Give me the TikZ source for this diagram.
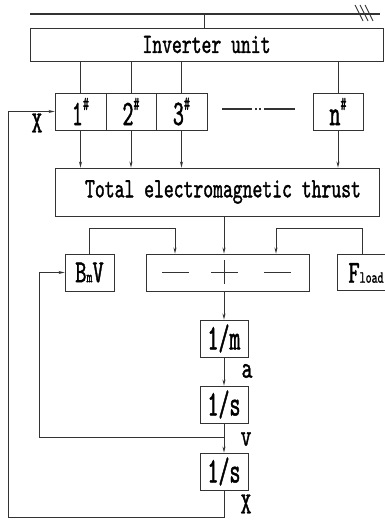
\documentclass[tikz,border=0pt]{standalone}
\usepackage{fontspec}
\newfontfamily\cad[FakeStretch=0.67,FakeBold=1.2]{lmmono10-regular.otf}
\newfontfamily\cadN[FakeStretch=0.58,FakeBold=1.2]{lmmono10-regular.otf}
\usetikzlibrary{arrows.meta}
\tikzset{
  box/.style={draw=black!80, line width=0.9pt, rectangle, inner sep=0pt, font=\cad\fontsize{28}{28}\selectfont, text=black},
  big/.style={font=\cadN\fontsize{36}{36}\selectfont},
  mid/.style={font=\cad\fontsize{32}{32}\selectfont},
  conn/.style={draw=black!80, line width=0.9pt},
  arr/.style={conn, -{Stealth[length=6pt,width=3pt]}},
  lbl/.style={font=\cad\fontsize{31}{31}\selectfont, text=black, inner sep=0pt}
}
\newcommand{\hsh}{\raisebox{0.42em}{\fontsize{20}{20}\selectfont\#}}
\begin{document}
\begin{tikzpicture}[x=1pt,y=-1pt]
\useasboundingbox (0,0) rectangle (385,522);
% bus line
\coordinate (busL) at (30,14);
\coordinate (busR) at (380,14);
\coordinate (busT) at (204,14);
\draw[conn, line width=1.4pt] (busL) -- (busR);
\foreach \dx in {0,5,10} \draw[conn] (355+\dx,5) -- (363+\dx,21);
% boxes
\node[box, minimum width=353, minimum height=33] (inv) at (206.5,44.5) {Inverter unit\hspace{22pt}};
\node[box, big, minimum width=51, minimum height=37] (b1) at (80.5,111.5) {1\hsh};
\node[box, big, minimum width=50, minimum height=37] (b2) at (131,111.5) {2\hsh};
\node[box, big, minimum width=51, minimum height=37] (b3) at (181.5,111.5) {3\hsh};
\node[box, big, minimum width=50, minimum height=37] (bn) at (338,111.5) {n\hsh};
\node[box, minimum width=324, minimum height=48] (tot) at (217,192) {\hspace{12pt}Total electromagnetic thrust};
\node[box, mid, minimum width=49, minimum height=37] (bmv) at (89.5,272.5) {B{\fontsize{17}{17}\selectfont m}V};
\node[box, minimum width=163, minimum height=37] (sum) at (227.5,272.5) {};
\node[box, minimum width=62, minimum height=36] (fl) at (368,272) {};
\node[mid, inner sep=0pt] (fltxt) at (366,273) {F{\fontsize{17}{17}\selectfont load}};
\node[box, big, minimum width=48, minimum height=37] (m) at (224,338.5) {1/m};
\node[box, big, minimum width=48, minimum height=37] (s1) at (224,404.5) {1/s};
\node[box, big, minimum width=48, minimum height=37] (s2) at (224,471.5) {1/s};
% dash-dot
\draw[conn, line width=1.3pt] (222,109) -- (252,109);
\draw[conn, line width=1.3pt] (255,109) -- (256.5,109);
\draw[conn, line width=1.3pt] (259,109) -- (260.5,109);
\draw[conn, line width=1.3pt] (264,109) -- (295,109);
% signs in sum box
\draw[conn] (162,272) -- (189,272);
\draw[conn] (211,272) -- (238,272);
\draw[conn] (224,260) -- (224,284);
\draw[conn] (264,272) -- (291,272);
% connections
\draw[conn] (busT) -- (busT |- inv.north);
\foreach \b in {b1,b2,b3,bn} {
  \draw[conn] (inv.south -| \b) -- (\b.north);
  \draw[arr] (\b.south) -- (tot.north -| \b);
}
\draw[arr] (tot.south -| m) -- (sum.north -| m);
\coordinate (jl) at (175,228);
\coordinate (jr) at (276,228);
\draw[arr] (bmv.north) |- (jl) -- (sum.north -| jl);
\coordinate (flt) at (362,254);
\draw[arr] (flt) |- (jr) -- (sum.north -| jr);
\draw[arr] (sum.south -| m) -- (m.north);
\draw[arr] (m.south) -- (s1.north);
\draw[arr] (s1.south) -- (s2.north);
\coordinate (vj) at (224,437);
\coordinate (vl) at (39,437);
\draw[arr] (vj) -- (vl) |- (bmv.west);
\coordinate (xb) at (224,517);
\coordinate (xl) at (8,517);
\draw[arr] (s2.south) -- (xb) -- (xl) |- (b1.west);
% labels
\node[lbl] (la) at (247,371) {a};
\node[lbl] (lv) at (246,439) {v};
\node[lbl] (lx2) at (246,504) {X};
\node[lbl] (lx1) at (37,123) {X};
\end{tikzpicture}
\end{document}
